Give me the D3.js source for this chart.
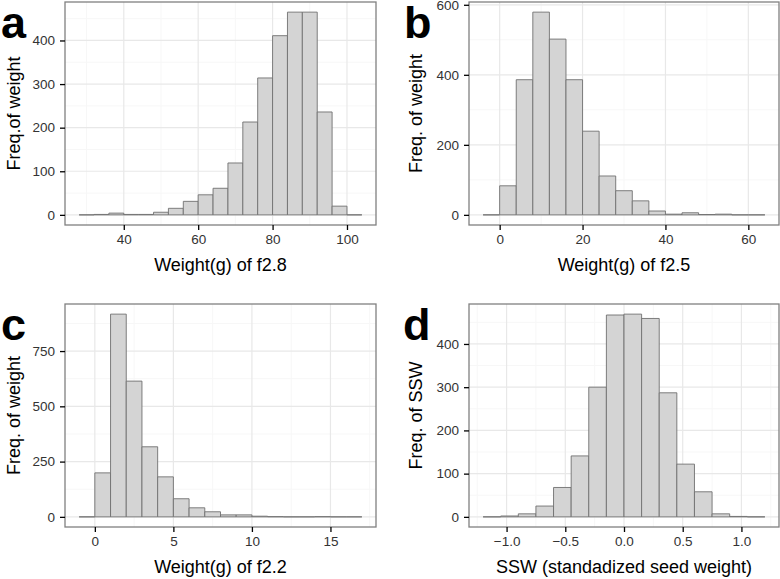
<!DOCTYPE html>
<html>
<head>
<meta charset="utf-8">
<script src="https://cdn.jsdelivr.net/npm/d3@7"></script>
<style>
  html, body { margin: 0; padding: 0; background: #fff; }
  svg { display: block; font-family: "Liberation Sans", Arial, sans-serif; }
</style>
</head>
<body>
<svg id="chart" width="780" height="579"></svg>
<script>
// ---- Data ----
// Panel a: weight of f2.8, bins of width 4 starting at 28
const binsA = [28, 32, 36, 40, 44, 48, 52, 56, 60, 64, 68, 72, 76, 80, 84, 88, 92, 96, 100, 104];
const countsA = [0, 1, 4, 1, 1, 6, 15, 31, 46, 61, 119, 213, 314, 411, 465, 465, 236, 20, 0];
const xTicksA = [40, 60, 80, 100];
const yTicksA = [0, 100, 200, 300, 400];

// Panel b: weight of f2.5, bins of width 4 starting at -4
const binsB = [-4, 0, 4, 8, 12, 16, 20, 24, 28, 32, 36, 40, 44, 48, 52, 56, 60, 64];
const countsB = [0, 83, 386, 579, 502, 386, 239, 111, 69, 40, 11, 2, 6, 1, 2, 0, 0];
const xTicksB = [0, 20, 40, 60];
const yTicksB = [0, 200, 400, 600];

// Panel c: weight of f2.2, bins of width 1 starting at -1
const binsC = [-1, 0, 1, 2, 3, 4, 5, 6, 7, 8, 9, 10, 11, 12, 13, 14, 15, 16, 17];
const countsC = [0, 199, 917, 614, 317, 181, 82, 41, 23, 9, 9, 3, 1, 0, 0, 1, 0, 0];
const xTicksC = [0, 5, 10, 15];
const yTicksC = [0, 250, 500, 750];

// Panel d: SSW, bins of width 0.15 from -1.2 to 1.2
const binsD = [-1.2, -1.05, -0.9, -0.75, -0.6, -0.45, -0.3, -0.15, 0, 0.15, 0.3, 0.45, 0.6, 0.75, 0.9, 1.05, 1.2];
const countsD = [0, 2, 7, 25, 68, 141, 300, 467, 469, 459, 287, 122, 58, 7, 1, 0];
const xTicksD = [-1.0, -0.5, 0.0, 0.5, 1.0];
const yTicksD = [0, 100, 200, 300, 400];

const panelLetters = ["a", "b", "c", "d"];
const xTitles = ["Weight(g) of f2.8", "Weight(g) of f2.5", "Weight(g) of f2.2", "SSW (standadized seed weight)"];
const yTitles = ["Freq.of weight", "Freq. of weight", "Freq. of weight", "Freq. of SSW"];

// ---- Layout ----
const panels = [
  { bins: binsA, counts: countsA, xt: xTicksA, yt: yTicksA, fmt: d => d,
    box: { x0: 65, x1: 376, y0: 2, y1: 225 }, letter: { x: 1, y: 38 }, yTitleX: 20 },
  { bins: binsB, counts: countsB, xt: xTicksB, yt: yTicksB, fmt: d => d,
    box: { x0: 469, x1: 779, y0: 2, y1: 225 }, letter: { x: 404, y: 38 }, yTitleX: 422 },
  { bins: binsC, counts: countsC, xt: xTicksC, yt: yTicksC, fmt: d => d,
    box: { x0: 65, x1: 376, y0: 304, y1: 527 }, letter: { x: 1, y: 340 }, yTitleX: 20 },
  { bins: binsD, counts: countsD, xt: xTicksD, yt: yTicksD, fmt: d3.format(".1f"),
    box: { x0: 469, x1: 779, y0: 304, y1: 527 }, letter: { x: 403, y: 340 }, yTitleX: 422 }
];

const svg = d3.select("#chart");

panels.forEach((p, i) => {
  const b = p.box;
  const xmin = p.bins[0], xmax = p.bins[p.bins.length - 1];
  const xpad = (xmax - xmin) * 0.05;
  const ymax = d3.max(p.counts);
  const ypad = ymax * 0.05;
  const x = d3.scaleLinear().domain([xmin - xpad, xmax + xpad]).range([b.x0, b.x1]);
  const y = d3.scaleLinear().domain([-ypad, ymax + ypad]).range([b.y1, b.y0]);

  const g = svg.append("g");

  // minor grid
  const xt = p.xt, yt = p.yt;
  const xStep = xt[1] - xt[0], yStep = yt[1] - yt[0];
  const xMinor = [];
  for (let v = xt[0] - xStep / 2; v <= xmax + xpad; v += xStep) if (v >= xmin - xpad) xMinor.push(v);
  const yMinor = [];
  for (let v = yt[0] + yStep / 2; v <= ymax + ypad; v += yStep) yMinor.push(v);

  g.selectAll(".xminor").data(xMinor).enter().append("line")
    .attr("x1", d => x(d)).attr("x2", d => x(d)).attr("y1", b.y0).attr("y2", b.y1)
    .attr("stroke", "#f7f7f7").attr("stroke-width", 1);
  g.selectAll(".yminor").data(yMinor).enter().append("line")
    .attr("x1", b.x0).attr("x2", b.x1).attr("y1", d => y(d)).attr("y2", d => y(d))
    .attr("stroke", "#f7f7f7").attr("stroke-width", 1);
  // major grid
  g.selectAll(".xmajor").data(xt).enter().append("line")
    .attr("x1", d => x(d)).attr("x2", d => x(d)).attr("y1", b.y0).attr("y2", b.y1)
    .attr("stroke", "#e8e8e8").attr("stroke-width", 1.2);
  g.selectAll(".ymajor").data(yt).enter().append("line")
    .attr("x1", b.x0).attr("x2", b.x1).attr("y1", d => y(d)).attr("y2", d => y(d))
    .attr("stroke", "#e8e8e8").attr("stroke-width", 1.2);

  // bars (paths so that empty bins still draw as a baseline segment)
  const data = p.counts.map((c, k) => ({ x0: p.bins[k], x1: p.bins[k + 1], c }));
  g.selectAll(".bar").data(data).enter().append("path")
    .attr("d", d => `M${x(d.x0)},${y(0)}V${y(d.c)}H${x(d.x1)}V${y(0)}Z`)
    .attr("fill", "#d4d4d4").attr("stroke", "#707070").attr("stroke-width", 0.9);

  // panel border
  g.append("rect").attr("x", b.x0).attr("y", b.y0)
    .attr("width", b.x1 - b.x0).attr("height", b.y1 - b.y0)
    .attr("fill", "none").attr("stroke", "#808080").attr("stroke-width", 1.3);

  // axes
  const xAxis = d3.axisBottom(x).tickValues(xt).tickFormat(p.fmt).tickSize(5).tickPadding(4);
  const ax = g.append("g").attr("transform", `translate(0,${b.y1})`).call(xAxis);
  const yAxis = d3.axisLeft(y).tickValues(yt).tickSize(5).tickPadding(5);
  const ay = g.append("g").attr("transform", `translate(${b.x0},0)`).call(yAxis);
  [ax, ay].forEach(a => {
    a.select(".domain").remove();
    a.selectAll(".tick line").attr("stroke", "#000").attr("stroke-width", 1.3);
    a.selectAll(".tick text").attr("fill", "#333").style("font-size", "13.5px")
      .style("font-family", "'Liberation Sans', Arial, sans-serif");
  });

  // axis titles
  g.append("text").attr("x", (b.x0 + b.x1) / 2).attr("y", b.y1 + 46)
    .attr("text-anchor", "middle").style("font-size", "18px").attr("fill", "#000")
    .text(xTitles[i]);
  g.append("text").attr("transform", `translate(${p.yTitleX},${(b.y0 + b.y1) / 2}) rotate(-90)`)
    .attr("text-anchor", "middle").style("font-size", "18px").attr("fill", "#000")
    .text(yTitles[i]);

  // panel letter
  g.append("text").attr("x", p.letter.x).attr("y", p.letter.y)
    .style("font-size", "45px").style("font-weight", "bold").attr("fill", "#000")
    .text(panelLetters[i]);
});
</script>
</body>
</html>
